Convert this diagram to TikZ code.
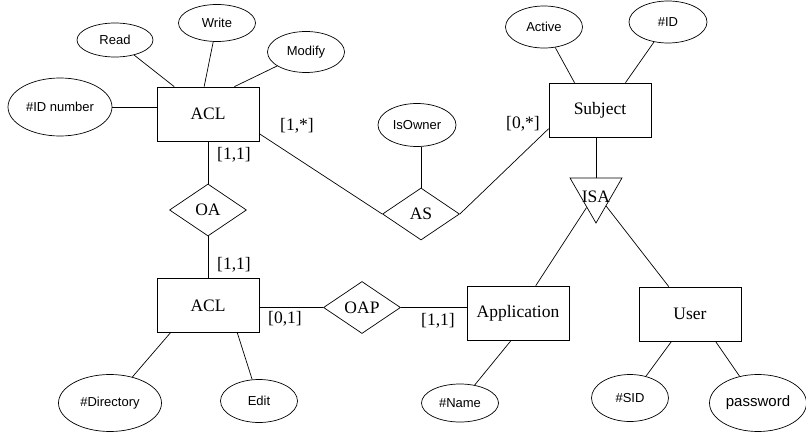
\documentclass[tikz,border=0pt]{standalone}
\usepackage{fontspec}
\setmainfont{Liberation Serif}
\setsansfont{Liberation Sans}
\usepackage{tikz}
\usetikzlibrary{shapes.geometric,positioning}
\tikzset
{
  entity/.style    = {rectangle, draw=black, align=center, minimum width=102pt, minimum height=54pt, font=\fontsize{17.5}{20}\selectfont},
  attribute/.style = {ellipse, draw=black, align=center, inner sep=0pt, minimum width=77pt, minimum height=40pt, font=\sffamily\fontsize{13}{15}\selectfont},
  relation/.style  = {diamond, draw=black, align=center, inner sep=0pt, minimum width=77pt, minimum height=52pt, font=\fontsize{17.5}{20}\selectfont},
  isatriangle/.style = {regular polygon, regular polygon sides=3, shape border rotate=180, draw=black, inner sep=0pt, minimum size=60pt},
  card/.style      = {inner sep=0pt, font=\fontsize{17.5}{20}\selectfont}
}

\begin{document}
\begin{tikzpicture}[x=1pt,y=-1pt,line width=0.7pt]
            \useasboundingbox (0,0) rectangle (806,433);
            % entities
            \node [entity] (acltop)  at (208,114)   {ACL};
            \node [entity] (aclbot)  at (208,305.5) {ACL};
            \node [entity] (subject) at (600,110)   {Subject};
            \node [entity] (app)     at (518,313)   {Application};
            \node [entity] (user)    at (690,314)   {User};
            % relations
            \node [relation] (oa)  at (208,210) {OA};
            \node [relation] (oap) at (362,307.5) {OAP};
            \node [relation] (as)  at (421,214) {AS};
            \node [isatriangle, label={[card, yshift=-4pt]center:ISA}] (isa) at (596,193) {};
            % attributes
            \node [attribute, minimum width=76pt, minimum height=34pt] (read)   at (115,40)  {Read};
            \node [attribute, minimum height=37pt]                   (write)  at (217,23)  {Write};
            \node [attribute, minimum height=41pt]                   (modify) at (306,52)  {Modify};
            \node [attribute, minimum width=104pt, minimum height=58pt] (idnum) at (60,107) {\#ID number};
            \node [attribute, minimum height=42pt]                   (active) at (544,27)  {Active};
            \node [attribute, minimum width=78pt, minimum height=42pt] (id)   at (668,22)  {\#ID};
            \node [attribute, minimum width=78pt, minimum height=43pt] (isowner) at (417,125) {IsOwner};
            \node [attribute, minimum width=103pt, minimum height=57pt] (directory) at (110,403) {\#Directory};
            \node [attribute, minimum height=43pt]                   (edit)   at (259,401) {Edit};
            \node [attribute, minimum height=38pt]                   (name)   at (460,403) {\#Name};
            \node [attribute, minimum height=47pt]                   (sid)    at (630,398) {\#SID};
            \node [attribute, minimum width=97pt, minimum height=57pt, font=\sffamily\fontsize{15}{17}\selectfont] (password) at (758,403) {password};
            % cardinalities
            \node [card] (c1) at (297,126) {[1,*]};
            \node [card] (c2) at (234,155) {[1,1]};
            \node [card] (c3) at (234,265) {[1,1]};
            \node [card] (c4) at (285,319) {[0,1]};
            \node [card] (c5) at (438,321) {[1,1]};
            \node [card] (c6) at (523,124) {[0,*]};
            % connectors
            \draw (read) -- (acltop.141);
            \draw (write) -- (acltop.98);
            \draw (modify) -- (acltop.46);
            \draw (idnum.east) -- (idnum.east -| acltop.west);
            \draw (acltop) -- (oa);
            \draw (oa) -- (aclbot);
            \draw (acltop.-21) -- (as.west);
            \draw (as.east) -- (subject.200);
            \draw (as.north |- isowner.south) -- (as.north);
            \draw (active) -- (subject.133);
            \draw (id) -- (subject.47);
            \draw (isa |- subject.south) -- (isa);
            \draw (isa) -- (app);
            \draw (isa) -- (user);
            \draw (oap.west -| aclbot.east) -- (oap.west);
            \draw (oap.east) -- (oap.east -| app.west);
            \draw (directory) -- (aclbot.216);
            \draw (edit) -- (aclbot.-43);
            \draw (name) -- (app.-104);
            \draw (sid) -- (user.-124);
            \draw (password) -- (user.-47);
\end{tikzpicture}
\end{document}
